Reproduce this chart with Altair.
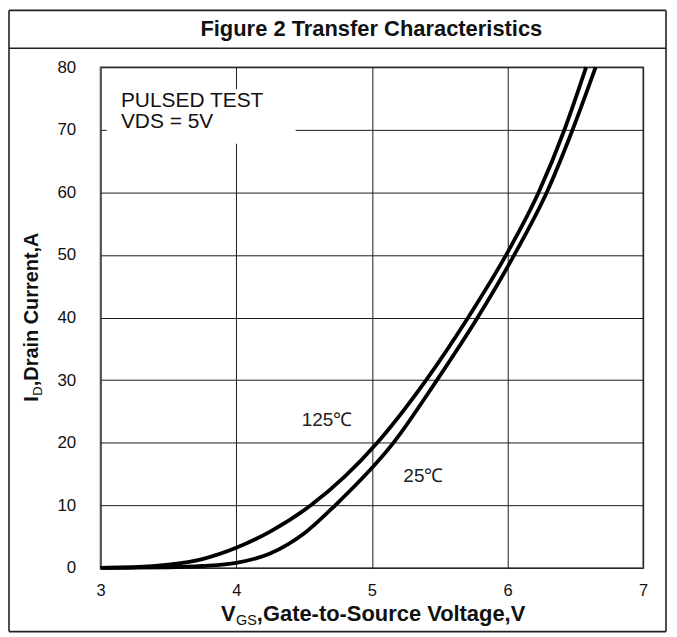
import altair as alt
import pandas as pd

# ---- data ----
vgs_125 = [3.0, 3.25, 3.5, 3.75, 4.0, 4.25, 4.55, 5.04, 5.40, 5.71, 5.99, 6.23, 6.42, 6.58]
id_125 = [0.0, 0.1, 0.5, 1.4, 3.2, 5.8, 10.0, 20.0, 30.0, 40.0, 50.0, 60.0, 70.0, 80.0]
vgs_25 = [3.0, 3.5, 3.75, 4.0, 4.25, 4.5, 4.73, 5.16, 5.48, 5.78, 6.05, 6.29, 6.48, 6.65]
id_25 = [0.0, 0.1, 0.3, 0.8, 2.3, 5.5, 10.0, 20.0, 30.0, 40.0, 50.0, 60.0, 70.0, 80.0]
x_ticks = [3, 4, 5, 6, 7]
y_ticks = [0, 10, 20, 30, 40, 50, 60, 70, 80]

title_text = "Figure 2 Transfer Characteristics"
legend_lines = ["PULSED TEST", "VDS = 5V"]
legend_x = [3.15, 3.15]
legend_y = [74.6, 71.2]
temp_labels = ["125\u2103", "25\u2103"]
temp_x = [4.67, 5.38]
temp_y = [23.7, 14.6]

FONT = "Liberation Sans, Arial, Helvetica, sans-serif"
INK = "#111"

df = pd.DataFrame({
    "V": vgs_125 + vgs_25,
    "I": id_125 + id_25,
    "T": ["125"] * len(vgs_125) + ["25"] * len(vgs_25),
})

xs = alt.Scale(domain=[3, 7], nice=False, zero=False)
ys = alt.Scale(domain=[0, 80], nice=False)

lines = alt.Chart(df).mark_line(color="black", strokeWidth=3.8, interpolate="monotone").encode(
    x=alt.X("V:Q", scale=xs, axis=alt.Axis(values=x_ticks, format="d", title=None,
                                           labelPadding=15, labelFlush=False, labelFontSize=16.5)),
    y=alt.Y("I:Q", scale=ys, axis=alt.Axis(values=y_ticks, format="d", title=None,
                                           labelPadding=25, labelFlush=False, labelFontSize=17)),
    detail="T:N",
)


def one(text):
    return pd.DataFrame({"t": [text]})


# white legend box covering the grid
box = alt.Chart(one("box")).mark_rect(fill="white").encode(
    x=alt.value(6), x2=alt.value(196), y=alt.value(22), y2=alt.value(77)
)

legend = alt.Chart(pd.DataFrame({"x": legend_x, "y": legend_y, "t": legend_lines})).mark_text(
    align="left", baseline="middle", font=FONT, fontSize=21, color=INK
).encode(x=alt.X("x:Q", scale=xs), y=alt.Y("y:Q", scale=ys), text="t:N")

temps = alt.Chart(pd.DataFrame({"x": temp_x, "y": temp_y, "t": temp_labels})).mark_text(
    align="center", baseline="middle", font=FONT, fontSize=19, color="#222"
).encode(x=alt.X("x:Q", scale=xs), y=alt.Y("y:Q", scale=ys), text="t:N")

# outer frame (four rules) and title separator, kept inside the drawing surface
L, R, T, B = -92, 568, -57, 567
frame_left = alt.Chart(one("l")).mark_rule(color="#222", strokeWidth=1.6).encode(
    x=alt.value(L), y=alt.value(T), y2=alt.value(B))
frame_right = alt.Chart(one("r")).mark_rule(color="#222", strokeWidth=1.6).encode(
    x=alt.value(R), y=alt.value(T), y2=alt.value(B))
frame_top = alt.Chart(one("t")).mark_rule(color="#222", strokeWidth=1.6).encode(
    x=alt.value(L), x2=alt.value(R), y=alt.value(T))
frame_bottom = alt.Chart(one("b")).mark_rule(color="#222", strokeWidth=1.6).encode(
    x=alt.value(L), x2=alt.value(R), y=alt.value(B))
sep = alt.Chart(one("s")).mark_rule(color="#222", strokeWidth=1.6).encode(
    x=alt.value(L), x2=alt.value(R), y=alt.value(-19))

title = alt.Chart(one(title_text)).mark_text(
    align="center", baseline="middle", font=FONT, fontSize=22, fontWeight="bold", color=INK
).encode(x=alt.value(272), y=alt.value(-38), text="t:N")

# x-axis title with subscript
xt1 = alt.Chart(one("V")).mark_text(
    align="left", baseline="alphabetic", font=FONT, fontSize=22, fontWeight="bold", color=INK
).encode(x=alt.value(121), y=alt.value(556), text="t:N")
xt2 = alt.Chart(one("GS")).mark_text(
    align="left", baseline="alphabetic", font=FONT, fontSize=14.5, color=INK
).encode(x=alt.value(136), y=alt.value(560), text="t:N")
xt3 = alt.Chart(one(",Gate-to-Source Voltage,V")).mark_text(
    align="left", baseline="alphabetic", font=FONT, fontSize=22, fontWeight="bold", color=INK
).encode(x=alt.value(157), y=alt.value(556), text="t:N")

# y-axis title with subscript (rotated)
yt1 = alt.Chart(one("I")).mark_text(
    align="left", baseline="alphabetic", angle=270, font=FONT, fontSize=20, fontWeight="bold", color=INK
).encode(x=alt.value(-63), y=alt.value(336), text="t:N")
yt2 = alt.Chart(one("D")).mark_text(
    align="left", baseline="alphabetic", angle=270, font=FONT, fontSize=13, color=INK
).encode(x=alt.value(-59), y=alt.value(330), text="t:N")
yt3 = alt.Chart(one(",Drain Current,A")).mark_text(
    align="left", baseline="alphabetic", angle=270, font=FONT, fontSize=20, fontWeight="bold", color=INK
).encode(x=alt.value(-63), y=alt.value(320.5), text="t:N")

chart = alt.layer(
    lines, box, legend, temps,
    frame_left, frame_right, frame_top, frame_bottom, sep,
    title, xt1, xt2, xt3, yt1, yt2, yt3
).properties(
    width=545,
    height=503,
    autosize=alt.AutoSizeParams(type="none"),
    padding={"left": 93, "top": 58, "right": 26, "bottom": 66},
    background="white",
).configure_view(
    stroke="#808080", strokeWidth=2
).configure_axis(
    grid=True, gridColor="#1a1a1a", gridWidth=1, domain=False, ticks=False,
    labelFont=FONT, labelFontSize=17, labelColor=INK,
)

chart.save("out.html", embed_options={"renderer": "svg", "actions": False})
